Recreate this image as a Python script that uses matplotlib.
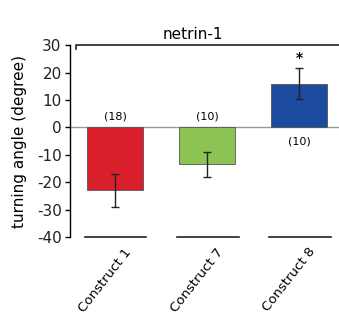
import matplotlib
matplotlib.use("Agg")
import matplotlib.pyplot as plt
from matplotlib.transforms import ScaledTranslation

categories = ["Construct 1", "Construct 7", "Construct 8"]
values = [-23.0, -13.5, 16.0]
errors = [6.0, 4.5, 5.6]
counts = ["(18)", "(10)", "(10)"]
colors = ["#d91f2b", "#8dc353", "#1c4a9c"]
yticks = [-40, -30, -20, -10, 0, 10, 20, 30]

plt.rcParams['font.family'] = ['DejaVu Sans']

fig = plt.figure(figsize=(3.39, 3.27), dpi=100)
ax = fig.add_axes([0.2065, 0.275, 0.7935, 0.587])
x = list(range(len(categories)))
ax.bar(x, values, width=0.61, color=colors, edgecolor="#555555", linewidth=0.6, zorder=2)
ax.errorbar(x, values, yerr=errors, fmt="none", ecolor="#222222", elinewidth=1.0,
            capsize=3, capthick=1.0, zorder=3)
ax.axhline(0, color="#999999", linewidth=1.0, zorder=1)

ax.set_xlim(-0.49, 2.43)
ax.set_ylim(-40, 30)
ax.set_yticks(yticks)
ax.set_yticklabels([str(t) for t in yticks], fontsize=11, color="#222222")
ax.set_xticks(x)
ax.set_xticklabels(categories, rotation=52, ha="right", rotation_mode="anchor", fontsize=9.5)
ax.tick_params(axis="x", length=0, pad=6)
shift = ScaledTranslation(6 / 72, 0, fig.dpi_scale_trans)
for lbl in ax.get_xticklabels():
    lbl.set_transform(lbl.get_transform() + shift)
ax.tick_params(axis="y", length=3.5, width=1, direction="out", pad=2.5)
for s in ["top", "right", "bottom"]:
    ax.spines[s].set_visible(False)
ax.spines["left"].set_linewidth(1.0)
ax.set_ylabel("turning angle (degree)", fontsize=11, labelpad=7)

# count labels
for xi, v, c in zip(x, values, counts):
    if v < 0:
        ax.text(xi, 2.3, c, ha="center", va="bottom", fontsize=8)
    else:
        ax.text(xi, -3.3, c, ha="center", va="top", fontsize=8)

# significance star
ax.text(2, values[2] + errors[2] + 1.2, "*", ha="center", va="bottom", fontsize=10, fontweight="bold")

# netrin-1 bracket
ax.plot([-0.43, -0.43, 2.43], [28.5, 30, 30], color="#222222", lw=1.2, clip_on=False)
ax.text(0.84, 31.3, "netrin-1", ha="center", va="bottom", fontsize=11)

# baseline segments under each bar
for xi in x:
    ax.plot([xi - 0.33, xi + 0.34], [-40, -40], color="#222222", lw=1.2, clip_on=False)

fig.savefig("out.png", dpi=100)
